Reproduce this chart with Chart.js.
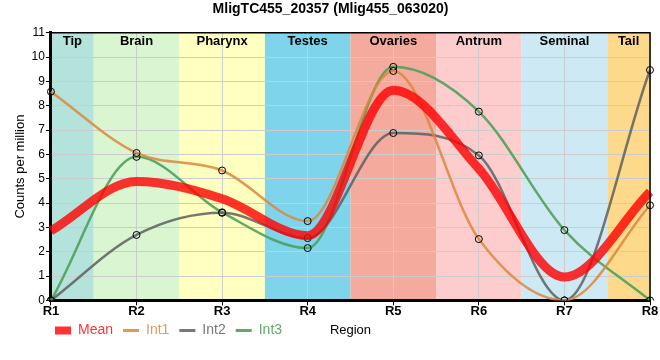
<!DOCTYPE html>
<html lang="en">
<head>
    <meta charset="UTF-8">
    <title>MligTC455_20357</title>
    <style>
        body{
            margin: 0;
            background-color: #fff;
        }
    </style>
</head>
<body>
    <div style="width: 660px; height: 360px;">
        <canvas id="myChart"></canvas>
    </div>

    <script src="https://cdn.jsdelivr.net/npm/chart.js"></script>

    <script>
        // values
        const regiones = ['R1','R2','R3','R4','R5','R6','R7','R8']
        const tejidos = ['Tip','Brain','Pharynx','Testes','Ovaries','Antrum','Seminal','Tail']
        const coloresTejido = ['#b4e3dc','#d9f6d1','#ffffbf','#7ed4eb','#f4aa9c','#fdcccc','#cdeaf4','#fcd98b']
        const media = [2.86, 4.89, 4.18, 2.66, 8.64, 5.41, 0.96, 4.46]
        const int1 = [8.58, 6.06, 5.34, 3.26, 9.43, 2.52, 0, 3.91]
        const int2 = [0, 2.69, 3.6, 2.56, 6.88, 5.96, 0, 9.47]
        const int3 = [0, 5.9, 3.62, 2.15, 9.6, 7.76, 2.89, 0]
        const yTicks = [0,1,2,3,4,5,6,7,8,9,10,11]

        const fuente = "'Liberation Sans', Arial, sans-serif"
        const padLeyenda = 10

        // coloured bands + tissue names behind the grid
        const bandas = {
            id: 'bandas',
            beforeDraw(chart){
                const {ctx, chartArea, scales} = chart
                ctx.save()
                tejidos.forEach((t, i) => {
                    let x0 = Math.max(scales.x.getPixelForValue(i - 0.5), chartArea.left)
                    let x1 = Math.min(scales.x.getPixelForValue(i + 0.5), chartArea.right)
                    ctx.fillStyle = coloresTejido[i]
                    ctx.fillRect(x0, chartArea.top, x1 - x0, chartArea.bottom - chartArea.top)
                })
                ctx.restore()
            },
            afterDatasetsDraw(chart){
                const {ctx, chartArea, scales} = chart
                ctx.save()
                ctx.fillStyle = '#000'
                ctx.font = 'bold 13px ' + fuente
                ctx.textAlign = 'center'
                ctx.textBaseline = 'middle'
                tejidos.forEach((t, i) => {
                    let x0 = Math.max(scales.x.getPixelForValue(i - 0.5), chartArea.left)
                    let x1 = Math.min(scales.x.getPixelForValue(i + 0.5), chartArea.right)
                    ctx.fillText(t, (x0 + x1) / 2, chartArea.top + 9)
                })
                // thin frame top / right
                ctx.strokeStyle = '#000'
                ctx.lineWidth = 1.5
                ctx.beginPath()
                ctx.moveTo(chartArea.left, chartArea.top)
                ctx.lineTo(chartArea.right, chartArea.top)
                ctx.lineTo(chartArea.right, chartArea.bottom)
                ctx.stroke()
                ctx.restore()
            },
            afterLayout(chart){
                const lg = chart.legend
                const h = lg.bottom - lg.top
                lg.left += 34
                lg.top = chart.chartArea.bottom + 13
                lg.bottom = lg.top + h
            },
            afterDraw(chart){
                const {ctx, chartArea} = chart
                const lg = chart.legend
                ctx.save()
                ctx.fillStyle = '#000'
                ctx.font = '13px ' + fuente
                ctx.textAlign = 'center'
                ctx.textBaseline = 'middle'
                ctx.fillText('Region', (chartArea.left + chartArea.right) / 2, lg.top + padLeyenda + 7)
                ctx.restore()
            }
        }

        const serie = (label, data, color, width, puntos) => ({
            label: label,
            data: data,
            borderColor: color,
            backgroundColor: color,
            borderWidth: width,
            cubicInterpolationMode: 'monotone',
            pointRadius: puntos ? 3.5 : 0,
            pointBorderColor: '#000',
            pointBackgroundColor: 'rgba(0,0,0,0)',
            pointBorderWidth: 1,
            fill: false
        })

        const contexto = document.querySelector('#myChart')
        const grafico = new Chart(contexto, {
            type: 'line',
            data: {
                labels: regiones,
                datasets: [
                    serie('Mean', media, 'rgba(255,0,0,0.8)', 9, false),
                    serie('Int1', int1, 'rgba(220,135,60,0.85)', 2.5, true),
                    serie('Int2', int2, 'rgba(95,95,95,0.85)', 2.5, true),
                    serie('Int3', int3, 'rgba(80,160,90,0.9)', 2.5, true)
                ]
            },
            options: {
                responsive: true,
                maintainAspectRatio: false,
                animation: false,
                layout: { padding: { left: 11, right: 10, top: 0, bottom: 9 } },
                scales: {
                    x: {
                        offset: false,
                        grid: { color: '#cccccc', tickLength: 5, tickColor: '#000' },
                        border: { color: '#000', width: 3 },
                        ticks: { color: '#000', font: { family: fuente, size: 13, weight: 'bold' }, padding: -2 }
                    },
                    y: {
                        min: 0,
                        max: 11,
                        afterBuildTicks: axis => { axis.ticks = yTicks.map(v => ({value: v})) },
                        grid: { color: '#cccccc', tickLength: 5, tickColor: '#000' },
                        border: { color: '#000', width: 3 },
                        ticks: { color: '#000', font: { family: fuente, size: 12 }, padding: 1 },
                        title: { display: true, text: 'Counts per million', color: '#000', font: { family: fuente, size: 13 }, padding: 2 }
                    }
                },
                plugins: {
                    title: {
                        display: true,
                        text: 'MligTC455_20357 (Mlig455_063020)',
                        color: '#000',
                        font: { family: fuente, size: 14, weight: 'bold' },
                        padding: { top: 1, bottom: 15 }
                    },
                    legend: {
                        position: 'bottom',
                        align: 'start',
                        labels: {
                            usePointStyle: true,
                            pointStyleWidth: 16,
                            boxHeight: 8,
                            padding: padLeyenda,
                            font: { family: fuente, size: 14 },
                            generateLabels: chart => chart.data.datasets.map((ds, i) => ({
                                text: ds.label,
                                fillStyle: ds.borderColor,
                                strokeStyle: ds.borderColor,
                                fontColor: ds.borderColor,
                                lineWidth: i === 0 ? 8 : 3,
                                lineCap: 'butt',
                                pointStyle: 'line',
                                hidden: false,
                                datasetIndex: i
                            }))
                        }
                    },
                    tooltip: { enabled: false }
                }
            },
            plugins: [bandas]
        })
    </script>
</body>
</html>
